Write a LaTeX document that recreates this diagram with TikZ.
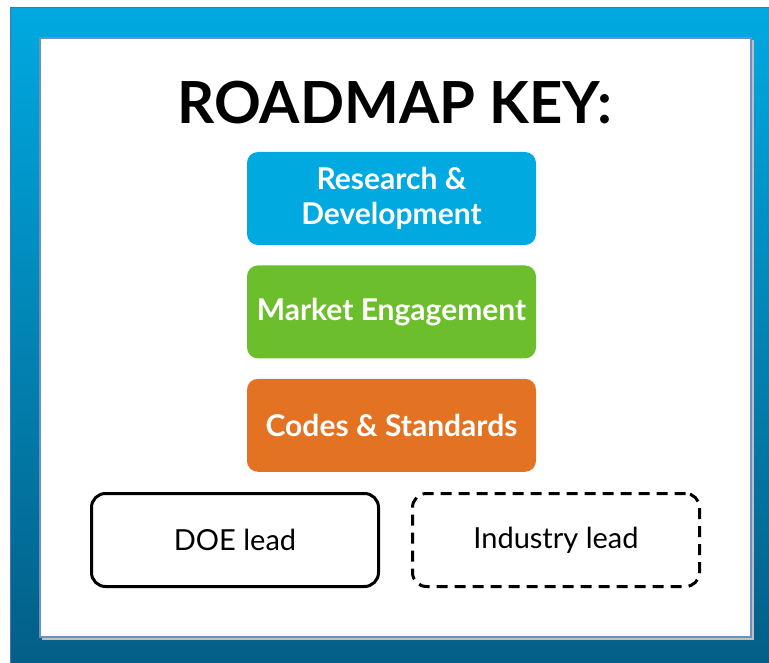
\documentclass[tikz,border=0pt]{standalone}
\usepackage{fontspec}
\setmainfont{Lato}
\usepackage{tikz}
\usetikzlibrary{positioning}

\definecolor{keyblue}{HTML}{00A9E0}
\definecolor{keygreen}{HTML}{6CBE2C}
\definecolor{keyorange}{HTML}{E37222}
\definecolor{frametop}{HTML}{00A9E1}
\definecolor{framebot}{HTML}{035E86}
\definecolor{frameline}{HTML}{4A74B0}

\begin{document}
\begin{tikzpicture}[
x=1pt, y=-1pt,
keybox/.style={rectangle,
  rounded corners=11pt,
  minimum width=289pt,
  minimum height=93pt,
  align=center,
  text=white,
  font=\fontsize{30}{35}\selectfont\bfseries,
},
leadbox/.style={rectangle,
  rounded corners=14pt,
  draw=black,
  line width=3pt,
  minimum width=287pt,
  minimum height=93pt,
  font=\fontsize{29}{32}\selectfont,
},
]
\useasboundingbox (0,0) rectangle (769,663);

% frame
\shade[top color=frametop, bottom color=framebot, draw=frameline, line width=1pt]
    (10,8) rectangle (775,670);
\fill[black!25] (42,40) rectangle (754,640);
\draw[fill=white, draw=frameline!80, line width=1.5pt] (40,38) rectangle (751,637);

\node[font=\fontsize{58}{62}\selectfont\bfseries] (title) at (395,103)
    {ROADMAP KEY:};

\node[keybox, fill=keyblue] (rd) at (391.5,198.5)
    {Research \&\\Development};
\node[keybox, fill=keygreen, below=20pt of rd] (me)
    {Market Engagement};
\node[keybox, fill=keyorange, below=20pt of me] (cs)
    {Codes \& Standards};

\node[leadbox] (doe) at (235,540)
    {DOE lead};
\node[leadbox, dash pattern=on 11pt off 7pt] (ind) at (556,540)
    {Industry lead};
\end{tikzpicture}
\end{document}
